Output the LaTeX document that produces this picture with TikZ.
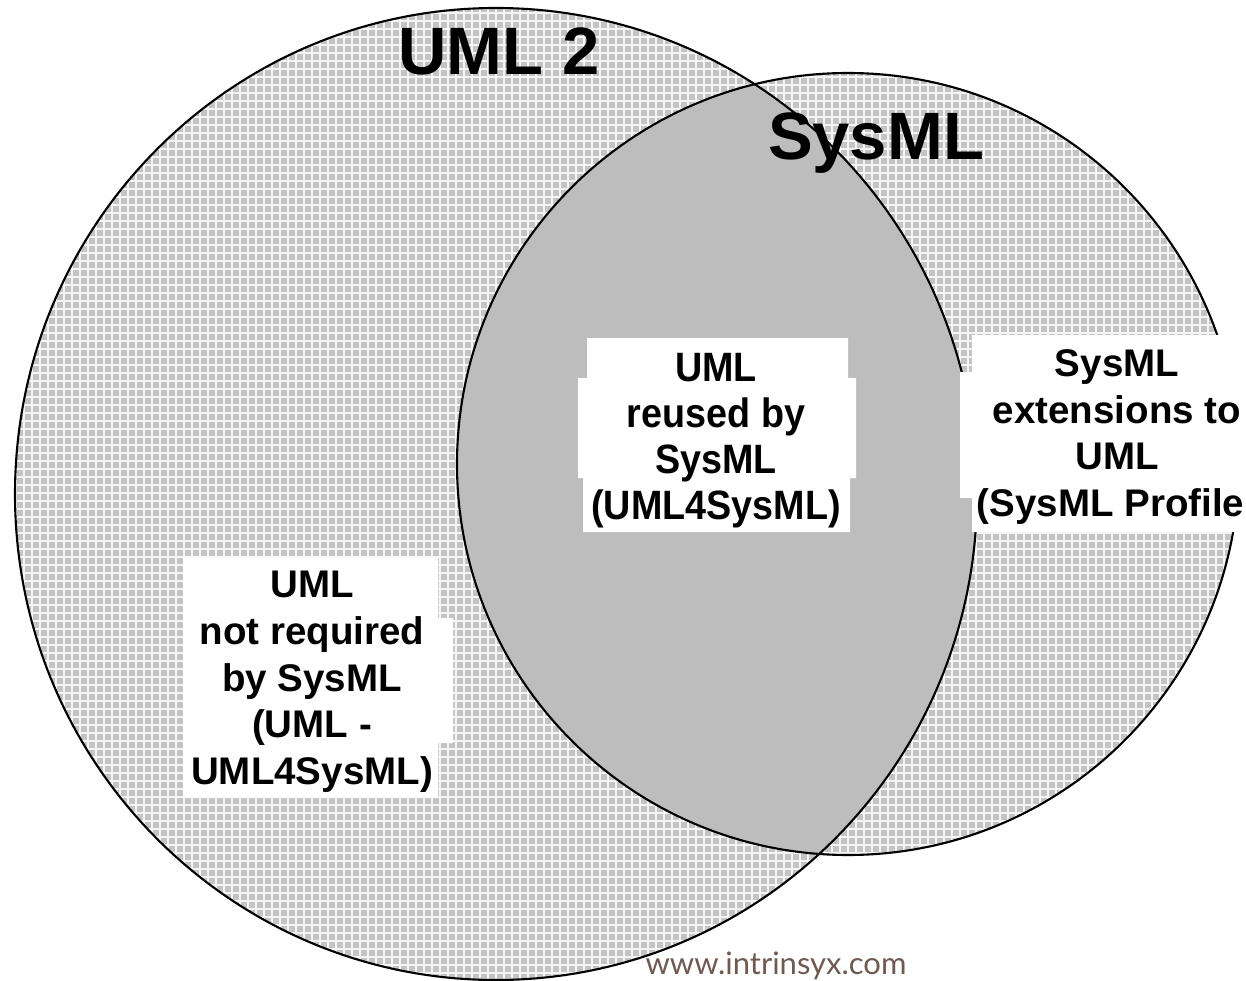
\documentclass[tikz,border=0pt]{standalone}
\usepackage{fontspec}
\setmainfont{Liberation Sans}
\newfontfamily\wmfont{Lato}
\usetikzlibrary{patterns.meta}

\definecolor{hatchgray}{HTML}{C4C4C4}
\definecolor{lensgray}{HTML}{BDBDBD}
\definecolor{wmbrown}{HTML}{6F5A52}

\tikzset{
  hatched/.style={fill=hatchgray,
    postaction={pattern={Lines[angle=0,distance=8pt,line width=2.4pt]},pattern color=white!96!black},
    postaction={pattern={Lines[angle=90,distance=8pt,line width=2.4pt]},pattern color=white!96!black}},
  setline/.style={draw=black,line width=2.1pt},
  title/.style={font=\fontsize{67}{80}\selectfont\bfseries,inner sep=0pt,anchor=base},
  boldlabel/.style={font=\fontsize{38.5}{46.7}\selectfont\bfseries,align=center,inner sep=0pt},
  narrowlabel/.style={inner sep=0pt},
}

\begin{document}
\begin{tikzpicture}[x=1pt,y=-1pt]
\useasboundingbox (0,0) rectangle (1246,981);
\clip (0,0) rectangle (1246,981);

% the two sets
\path[hatched] (496,494) ellipse [x radius=481, y radius=486];
\path[hatched] (848,464) circle [radius=391];

% their overlap
\begin{scope}
  \clip (496,494) ellipse [x radius=481, y radius=486];
  \fill[lensgray] (848,464) circle [radius=391];
\end{scope}

% outlines
\draw[setline] (496,494) ellipse [x radius=481, y radius=486];
\draw[setline] (848,464) circle [radius=391];

% white backgrounds behind the region labels
\fill[white] (587,338) -| (848,378) -| (856,478) -| (850,532) -| (583,478) -| (578,378) -| (587,338) -- cycle;
\fill[white] (972,335) -- (1246,335) -- (1246,532) -- (972,532) -- (972,498) -- (960,498) -- (960,372) -- (972,372) -- cycle;
\fill[white] (183,557) -- (438,557) -- (438,618) -- (453,618) -- (453,743) -- (438,743) -- (438,798) -- (183,798) -- cycle;

% set names
\node[title] (uml) at (499,75) {UML 2};
\node[title] (sysml) at (876,160) {SysML};

% region labels
\node[narrowlabel] (reused) at (716,441)
  {\scalebox{0.92}[1]{\fontsize{41}{46}\selectfont\bfseries
   \begin{tabular}{@{}c@{}}UML\\reused by\\SysML\\(UML4SysML)\end{tabular}}};
\node[boldlabel] (ext) at (1117,437)
  {SysML\\extensions to\\UML\\(SysML Profile\phantom{)}};
\node[boldlabel] (notreq) at (312,682)
  {UML\\not required\\by SysML\\(UML -\\UML4SysML)};

% site mark
\node[font=\wmfont\fontsize{31}{33}\selectfont,text=wmbrown,inner sep=0pt,anchor=base] (site) at (776,974) {www.intrinsyx.com};
\end{tikzpicture}
\end{document}
